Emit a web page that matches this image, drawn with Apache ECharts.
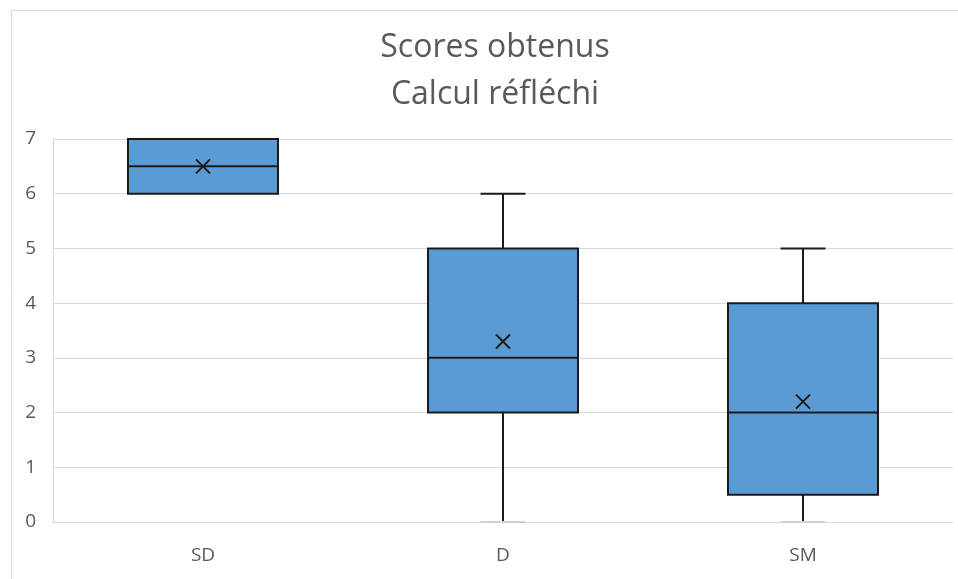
<!DOCTYPE html>
<html>
<head>
<meta charset="utf-8">
<script src="https://cdn.jsdelivr.net/npm/echarts@6/dist/echarts.min.js"></script>
<style>
html,body{margin:0;padding:0;background:#fff;}
#chart{width:958px;height:579px;}
</style>
</head>
<body>
<div id="chart"></div>
<script>
const categories = ['SD', 'D', 'SM'];
const minValues = [6, 0, 0];
const q1Values = [6, 2, 0.5];
const medianValues = [6.5, 3, 2];
const q3Values = [7, 5, 4];
const maxValues = [7, 6, 5];
const meanValues = [6.5, 3.3, 2.2];
const yTicks = [0, 1, 2, 3, 4, 5, 6, 7];

const data = categories.map((c, i) => [i, minValues[i], q1Values[i], medianValues[i], q3Values[i], maxValues[i], meanValues[i]]);

const chart = echarts.init(document.getElementById('chart'));
const FONT = 'Open Sans';
chart.setOption({
  animation: false,
  backgroundColor: '#fff',
  title: {
    text: 'Scores obtenus\nCalcul réfléchi',
    left: 490,
    textAlign: 'center',
    top: 19,
    textStyle: { fontFamily: FONT, fontSize: 32, fontWeight: 'normal', color: '#595959', lineHeight: 47 }
  },
  graphic: [{
    type: 'rect', left: 9, top: 8, shape: { x: 0, y: 0, width: 960, height: 580 },
    style: { fill: 'none', stroke: '#d9d9d9', lineWidth: 1 }, silent: true, z: -1
  }],
  grid: { left: 53, right: 5, top: 139, bottom: 57 },
  xAxis: {
    type: 'category', data: categories,
    axisLine: { show: true, lineStyle: { color: '#d9d9d9', width: 1 } },
    axisTick: { show: false },
    axisLabel: { fontFamily: FONT, fontSize: 19, color: '#595959', margin: 24 },
    splitLine: { show: false }
  },
  yAxis: {
    type: 'value', min: yTicks[0], max: yTicks[yTicks.length - 1], interval: 1,
    axisLine: { show: true, lineStyle: { color: '#d9d9d9', width: 1 } },
    axisTick: { show: false },
    axisLabel: { fontFamily: FONT, fontSize: 19, color: '#595959', margin: 17 },
    splitLine: { show: true, lineStyle: { color: '#d9d9d9', width: 1 } }
  },
  series: [{
    type: 'custom',
    data: data,
    encode: { x: 0, y: [1, 2, 3, 4, 5] },
    renderItem: function (params, api) {
      const idx = api.value(0);
      const cw = api.size([1, 0])[0];
      const boxW = cw * 0.5;
      const capW = cw * 0.15;
      const pMin = api.coord([idx, api.value(1)]);
      const pQ1 = api.coord([idx, api.value(2)]);
      const pMed = api.coord([idx, api.value(3)]);
      const pQ3 = api.coord([idx, api.value(4)]);
      const pMax = api.coord([idx, api.value(5)]);
      const pMean = api.coord([idx, api.value(6)]);
      const x = pMed[0];
      const line = { stroke: '#1a1a1a', lineWidth: 2 };
      const children = [];
      if (pMax[1] < pQ3[1]) {
        children.push({ type: 'line', shape: { x1: x, y1: pQ3[1], x2: x, y2: pMax[1] }, style: line });
        children.push({ type: 'line', shape: { x1: x - capW / 2, y1: pMax[1], x2: x + capW / 2, y2: pMax[1] }, style: line });
      }
      if (pMin[1] > pQ1[1]) {
        children.push({ type: 'line', shape: { x1: x, y1: pQ1[1], x2: x, y2: pMin[1] }, style: line });
        const atAxis = api.value(1) === yTicks[0];
        children.push({ type: 'line', shape: { x1: x - capW / 2, y1: pMin[1], x2: x + capW / 2, y2: pMin[1] },
          style: { stroke: atAxis ? '#d0d0d0' : '#1a1a1a', lineWidth: 2 } });
      }
      children.push({ type: 'rect', shape: { x: x - boxW / 2, y: pQ3[1], width: boxW, height: pQ1[1] - pQ3[1] },
        style: { fill: '#5b9bd5', stroke: '#1a1a1a', lineWidth: 2 } });
      children.push({ type: 'line', shape: { x1: x - boxW / 2, y1: pMed[1], x2: x + boxW / 2, y2: pMed[1] }, style: line });
      const s = 7;
      children.push({ type: 'line', shape: { x1: pMean[0] - s, y1: pMean[1] - s, x2: pMean[0] + s, y2: pMean[1] + s }, style: line });
      children.push({ type: 'line', shape: { x1: pMean[0] - s, y1: pMean[1] + s, x2: pMean[0] + s, y2: pMean[1] - s }, style: line });
      return { type: 'group', children: children };
    }
  }]
});
</script>
</body>
</html>
